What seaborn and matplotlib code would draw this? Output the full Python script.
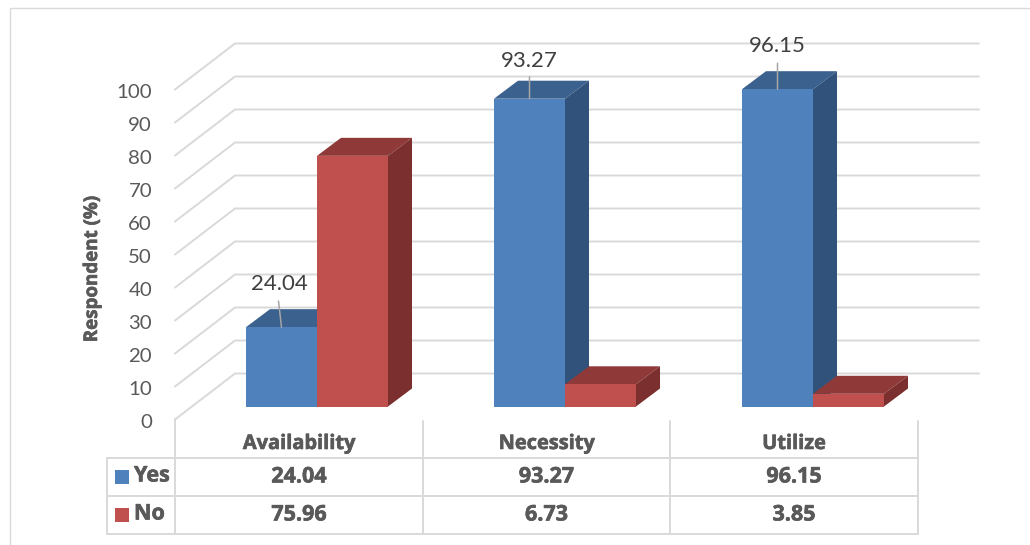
import matplotlib
matplotlib.use("Agg")
import matplotlib.pyplot as plt
import matplotlib.patheffects as pe
from matplotlib.patches import Polygon, Rectangle
from matplotlib.transforms import ScaledTranslation
import pandas as pd
import seaborn as sns

categories = ["Availability", "Necessity", "Utilize"]
series_names = ["Yes", "No"]
yes_values = [24.04, 93.27, 96.15]
no_values = [75.96, 6.73, 3.85]
value_ticks = list(range(0, 101, 10))

FRONT = {"Yes": "#4F81BD", "No": "#C0504D"}
TOP = {"Yes": "#3B618E", "No": "#8F3A38"}
SIDE = {"Yes": "#31527A", "No": "#7B2F2E"}
GRID = "#D9D9D9"
TEXT = "#595959"
FONT = ["Lato", "DejaVu Sans"]
BOLD_FONT = ["Open Sans", "DejaVu Sans"]

sns.set_theme(style="white")
plt.rcParams["font.family"] = FONT

W, H, DPI = 1030, 545, 100
PX_PER_CAT, PX_PER_UNIT = 248.0, 3.3
FIRST_CAT_X, BASE_Y = 317.0, 406.5

fig = plt.figure(figsize=(W / DPI, H / DPI), dpi=DPI, facecolor="white")

# Page-space layer for the border and the data table, in pixel units
page = fig.add_axes([0, 0, 1, 1], zorder=0)
page.set_xlim(0, W)
page.set_ylim(H, 0)
page.axis("off")

# Chart layer: the front plane of the bars
left = FIRST_CAT_X - PX_PER_CAT / 2
ax = fig.add_axes(
    [left / W, (H - BASE_Y) / H, 3 * PX_PER_CAT / W, 100 * PX_PER_UNIT / H],
    zorder=1,
)
ax.patch.set_alpha(0)

frame = pd.DataFrame(
    {
        "category": categories * 2,
        "series": ["Yes"] * 3 + ["No"] * 3,
        "value": yes_values + no_values,
    }
)
sns.barplot(
    data=frame, x="category", y="value", hue="series", hue_order=series_names,
    palette=FRONT, width=142 / PX_PER_CAT, gap=0, saturation=1, legend=False,
    linewidth=0, zorder=4, ax=ax,
)
ax.set_xlim(-0.5, 2.5)
ax.set_ylim(0, 100)
for spine in ax.spines.values():
    spine.set_visible(False)
ax.set_xlabel("")
ax.set_ylabel("")
ax.set_xticks([])
ax.tick_params(left=False)


def cat_x(px):
    return (px - FIRST_CAT_X) / PX_PER_CAT


def depth_v(px):
    return px / PX_PER_UNIT


# Walls: each gridline runs along the side wall and then across the back wall
wall_lx, wall_bx, wall_rx = cat_x(175), cat_x(235), cat_x(979)
front_off, back_off = depth_v(-13), depth_v(33)
for v in value_ticks:
    ax.plot(
        [wall_lx, wall_bx, wall_rx],
        [v + front_off, v + back_off, v + back_off],
        color=GRID, lw=1.4, clip_on=False, zorder=1, solid_joinstyle="miter",
    )

# Receding faces of each bar
dx, dy = 24 / PX_PER_CAT, depth_v(18)
for order, (name, container) in enumerate(zip(series_names, ax.containers)):
    for bar in container:
        x0, x1, h = bar.get_x(), bar.get_x() + bar.get_width(), bar.get_height()
        ax.add_patch(Polygon(
            [(x0, h), (x1, h), (x1 + dx, h + dy), (x0 + dx, h + dy)],
            closed=True, fc=TOP[name], ec="none", clip_on=False, zorder=2 + order,
        ))
        ax.add_patch(Polygon(
            [(x1, 0), (x1 + dx, dy), (x1 + dx, h + dy), (x1, h)],
            closed=True, fc=SIDE[name], ec="none", clip_on=False, zorder=2 + order,
        ))

# Value labels with leader lines on the Yes bars
leader_tops = [(-3, 26), (0, 22), (0, 26)]
label_shift = [(-2, 43), (0, 38), (0, 43)]
for bar, value, lead, (sx, sy) in zip(ax.containers[0], yes_values, leader_tops, label_shift):
    cx = bar.get_x() + bar.get_width() / 2
    ax.annotate(
        "", xy=(cx, value), xytext=(lead[0] * 0.72, lead[1] * 0.72),
        xycoords="data", textcoords="offset points",
        arrowprops=dict(arrowstyle="-", color="#A6A6A6", lw=1.1, shrinkA=0, shrinkB=0),
        zorder=6, annotation_clip=False,
    )
    ax.annotate(
        f"{value:.2f}", xy=(cx, value), xytext=(sx * 0.72, sy * 0.72),
        textcoords="offset points", ha="center", va="center",
        fontsize=16, color="#404040", zorder=7, annotation_clip=False,
    )

# Value axis labels sit on the front edge of the side wall
ax.set_yticks(value_ticks)
ax.tick_params(axis="y", pad=41 * 0.72, length=0, labelsize=14.7, labelcolor=TEXT)
shift_down = ScaledTranslation(0, -14.5 / DPI, fig.dpi_scale_trans)
for label in ax.get_yticklabels():
    label.set_transform(label.get_transform() + shift_down)

# Heavier strokes for the bold table and axis-title text
heavy = [pe.withStroke(linewidth=0.45, foreground=TEXT)]
bold_kw = dict(fontweight="bold", color=TEXT, family=BOLD_FONT, path_effects=heavy)

page.text(92, 269, "Respondent (%)", rotation=90, ha="center", va="center",
          fontsize=13.5, **bold_kw)

# Border
page.plot([10, 10, 1030], [545, 8, 8], color=GRID, lw=1.0)

# Data table
col_edges = [175, 423, 670, 918]
row_edges = [458, 496, 534]
for x in col_edges:
    page.plot([x, x], [421 if x != 175 else 419, 534], color=GRID, lw=1.4)
page.plot([107, 107], [458, 534], color=GRID, lw=1.4)
for y in row_edges:
    page.plot([107, 918], [y, y], color=GRID, lw=1.4)

col_centres = [(a + b) / 2 for a, b in zip(col_edges, col_edges[1:])]
for cx, name in zip(col_centres, categories):
    page.text(cx, 444, name, ha="center", va="center", fontsize=14.4, **bold_kw)
for y, name, values in zip((477, 515), series_names, (yes_values, no_values)):
    page.add_patch(Rectangle((115, y - 7), 14, 14, fc=FRONT[name], ec="none"))
    page.text(134, y - 1, name, ha="left", va="center", fontsize=15.5, **bold_kw)
    for cx, value in zip(col_centres, values):
        page.text(cx, y, f"{value:.2f}", ha="center", va="center", fontsize=15.5, **bold_kw)

fig.savefig("out.png", dpi=DPI)
